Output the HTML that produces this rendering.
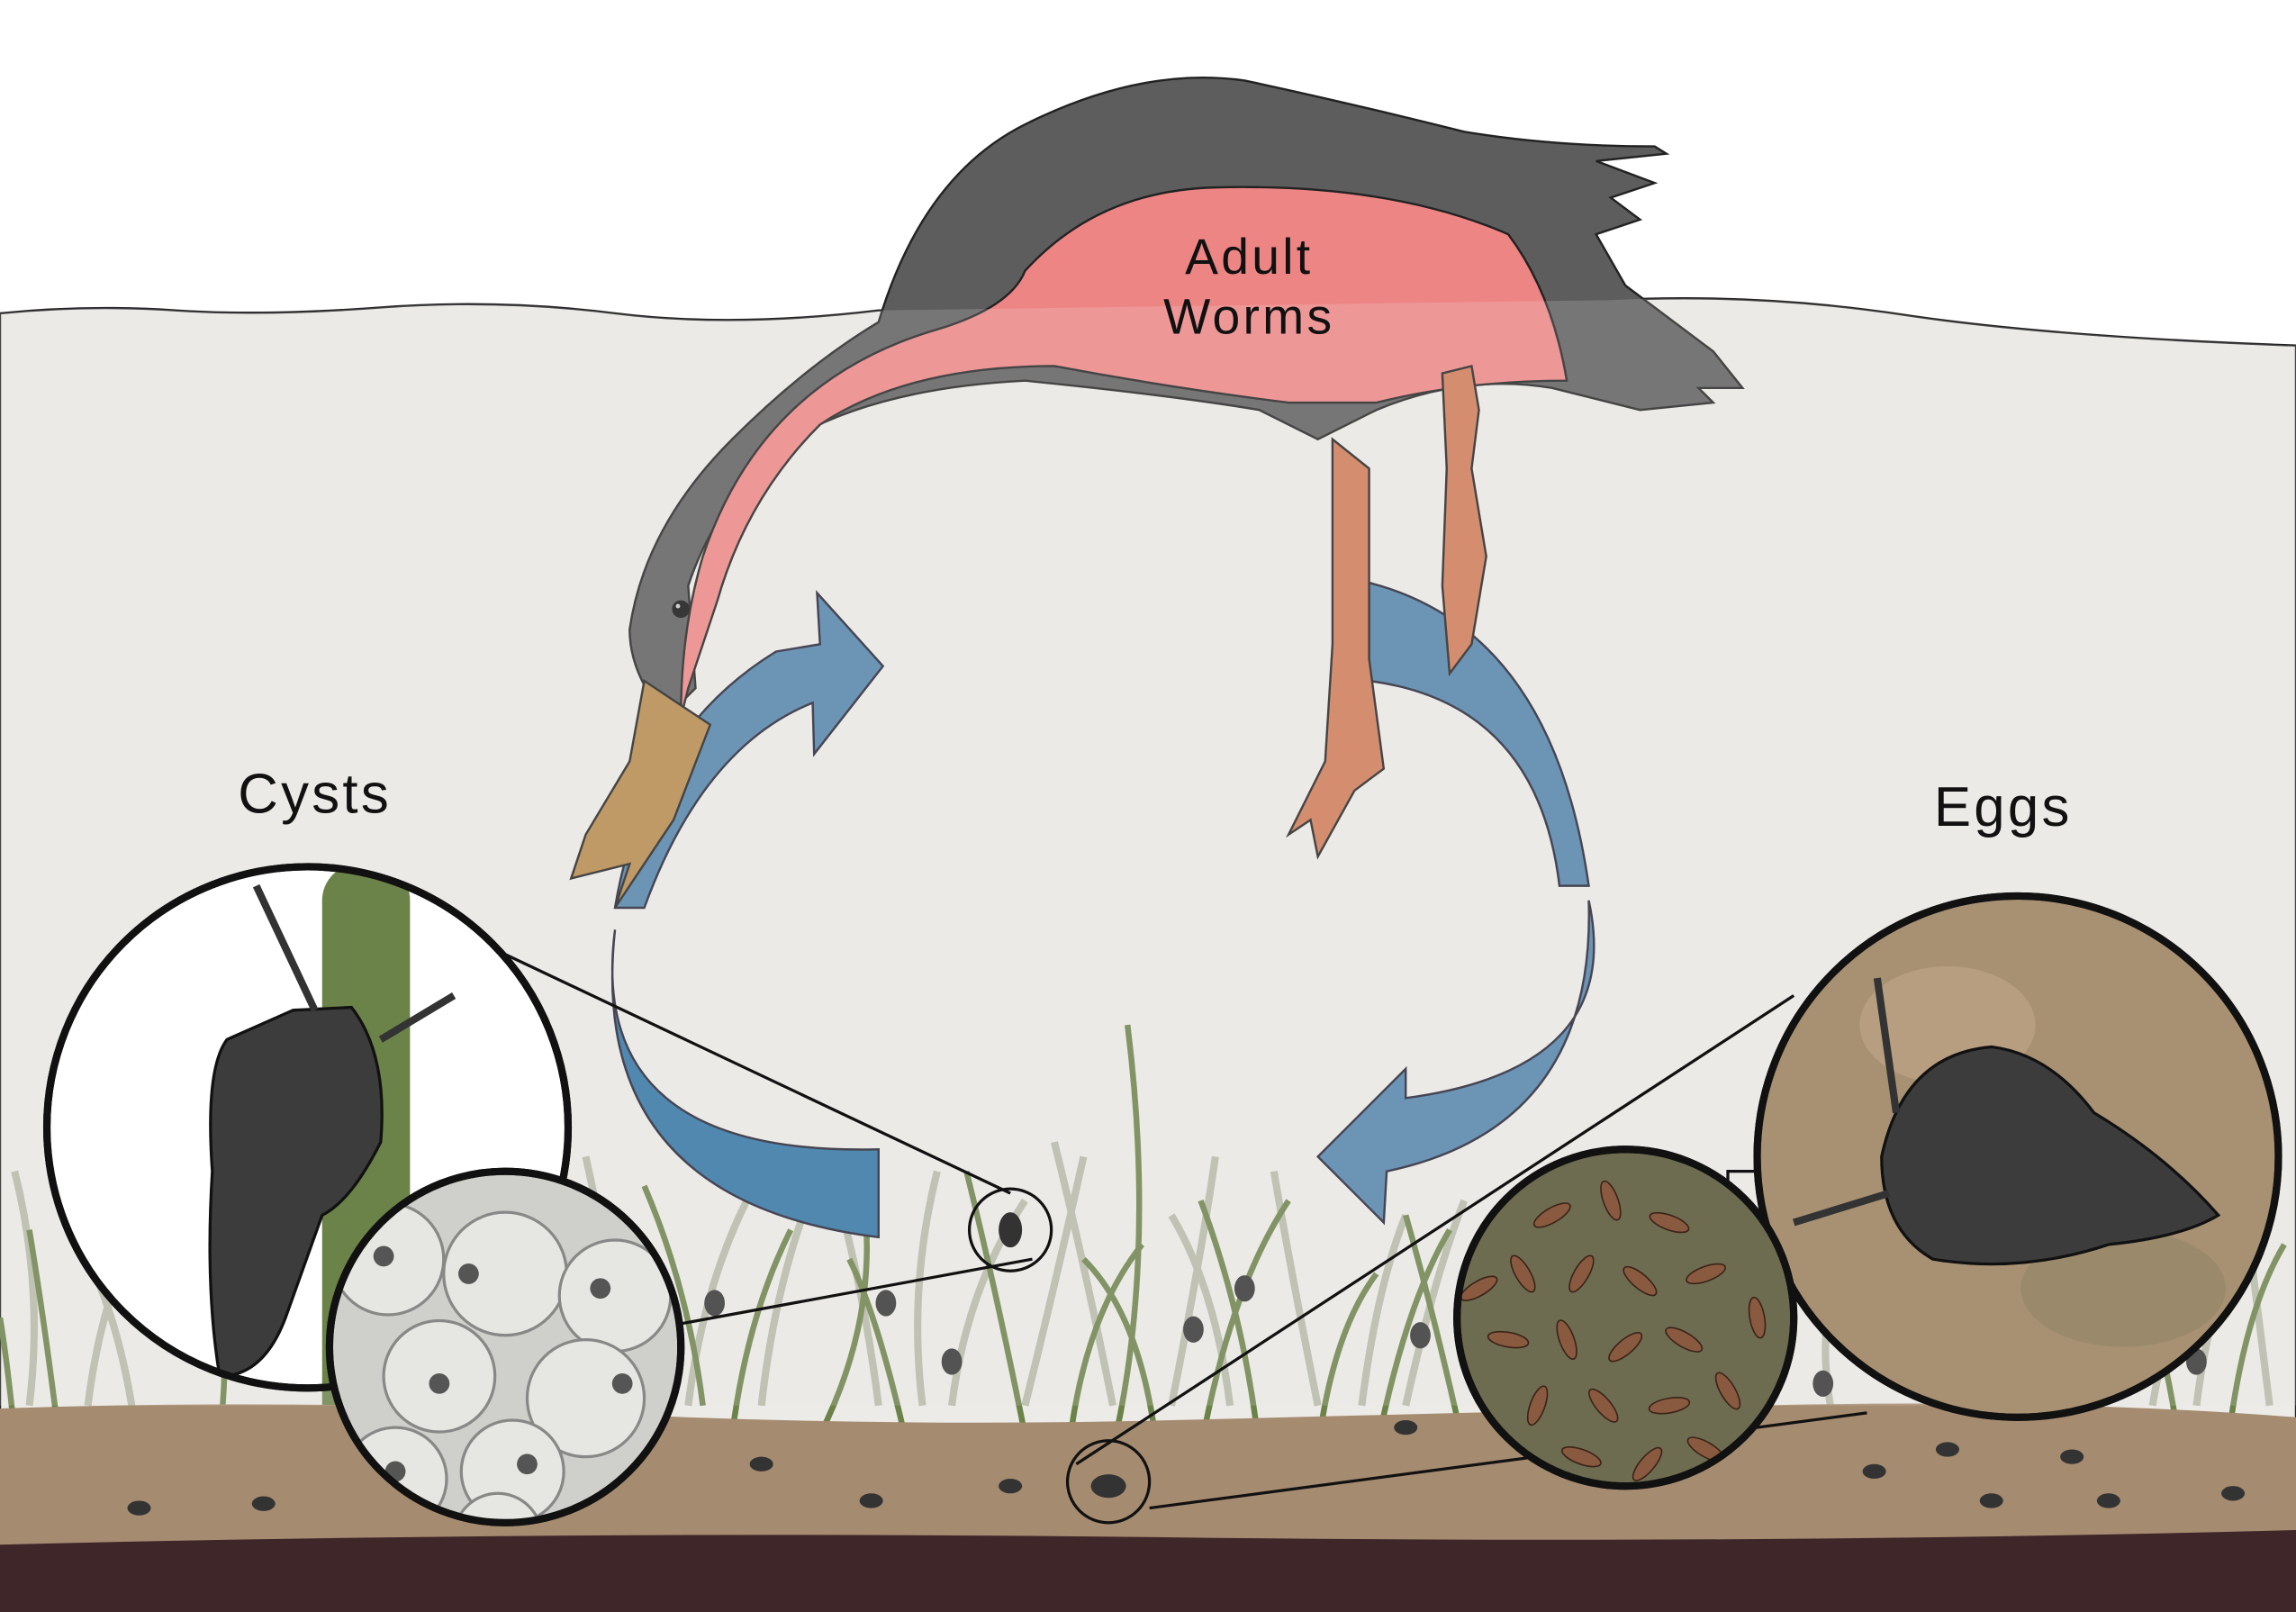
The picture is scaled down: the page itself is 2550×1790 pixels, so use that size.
<!DOCTYPE html>
<html><head><meta charset="utf-8"><style>
html,body{margin:0;padding:0;background:#fff;}
svg{display:block;}
text{font-family:"Liberation Sans",sans-serif;letter-spacing:2px;}
</style></head><body>
<svg width="2550" height="1790" viewBox="0 0 1568 1101" preserveAspectRatio="none" xmlns="http://www.w3.org/2000/svg">
<defs>
<clipPath id="cL"><circle cx="210" cy="770" r="176"/></clipPath>
<clipPath id="cR"><circle cx="1378" cy="790" r="176"/></clipPath>
<clipPath id="cC"><circle cx="345" cy="920" r="118"/></clipPath>
<clipPath id="cE"><circle cx="1110" cy="900" r="113"/></clipPath>
</defs>
<rect width="1568" height="1101" fill="#fff"/>
<path d="M0 214 Q60 208 120 212 T260 210 T420 214 T600 212 L1100 205 Q1200 200 1300 215 T1568 236 L1568 1101 L0 1101Z" fill="#ecebe7" stroke="#222" stroke-width="1.5"/>
<g stroke="#a9ae9a" stroke-width="5" fill="none" opacity="0.8">
<path d="M20 960 Q30 880 10 800"/><path d="M60 960 Q70 880 100 830"/><path d="M90 960 Q80 900 60 860"/><path d="M430 960 Q420 880 400 790"/><path d="M470 960 Q480 880 510 820"/><path d="M520 960 Q530 870 560 800"/><path d="M600 960 Q590 880 570 810"/><path d="M630 960 Q620 880 640 800"/><path d="M650 960 Q660 880 700 820"/><path d="M700 960 Q720 880 740 790"/><path d="M760 960 Q740 860 720 780"/><path d="M800 960 Q820 860 830 790"/><path d="M840 960 Q830 880 800 830"/><path d="M900 960 Q880 860 870 800"/><path d="M930 960 Q940 880 960 830"/><path d="M960 960 Q980 870 1000 820"/><path d="M1500 960 Q1510 880 1540 820"/><path d="M1550 960 Q1540 880 1530 800"/><path d="M1470 960 Q1480 900 1500 860"/><path d="M1250 960 Q1240 900 1260 860"/>
</g>
<g stroke="#6b8248" stroke-width="4" fill="none">
<path d="M480 960 Q470 880 440 810"/><path d="M500 980 Q510 900 540 840"/><path d="M560 980 Q600 900 590 820"/><path d="M620 990 Q600 900 580 860"/><path d="M700 980 Q680 880 660 800"/><path d="M730 990 Q740 900 780 850"/><path d="M760 990 Q790 860 770 700"/><path d="M790 990 Q780 900 740 860"/><path d="M820 990 Q840 880 880 820"/><path d="M860 990 Q850 900 820 820"/><path d="M900 990 Q910 910 940 870"/><path d="M940 990 Q960 890 990 840"/><path d="M1000 990 Q980 900 960 830"/><path d="M1520 1000 Q1530 900 1560 850"/><path d="M1490 1000 Q1480 920 1460 870"/><path d="M40 980 Q30 900 20 840"/><path d="M150 980 Q160 900 140 850"/><path d="M10 980 Q5 930 0 900"/>
</g>
<rect x="220" y="605" width="60" height="400" rx="25" fill="#6b8248"/>
<path d="M0 962 Q200 955 400 965 T800 970 T1200 960 T1568 968 L1568 1101 L0 1101Z" fill="#a58b70"/>
<path d="M0 1055 Q400 1045 800 1050 T1568 1045 L1568 1101 L0 1101Z" fill="#3f2629"/>
<g fill="#333">
<ellipse cx="95" cy="1030" rx="8" ry="5"/><ellipse cx="180" cy="1027" rx="8" ry="5"/><ellipse cx="520" cy="1000" rx="8" ry="5"/><ellipse cx="595" cy="1025" rx="8" ry="5"/><ellipse cx="690" cy="1015" rx="8" ry="5"/><ellipse cx="960" cy="975" rx="8" ry="5"/><ellipse cx="1280" cy="1005" rx="8" ry="5"/><ellipse cx="1330" cy="990" rx="8" ry="5"/><ellipse cx="1415" cy="995" rx="8" ry="5"/><ellipse cx="1440" cy="1025" rx="8" ry="5"/><ellipse cx="1360" cy="1025" rx="8" ry="5"/><ellipse cx="1525" cy="1020" rx="8" ry="5"/><ellipse cx="815" cy="908" rx="7" ry="9"/><ellipse cx="850" cy="880" rx="7" ry="9"/><ellipse cx="650" cy="930" rx="7" ry="9"/><ellipse cx="970" cy="912" rx="7" ry="9"/><ellipse cx="1245" cy="945" rx="7" ry="9"/><ellipse cx="1500" cy="930" rx="7" ry="9"/><ellipse cx="488" cy="890" rx="7" ry="9"/><ellipse cx="605" cy="890" rx="7" ry="9"/>
</g>
<g fill="#4f82aa" stroke="#223" stroke-width="1.5">
<path d="M420 620 Q440 500 530 445 L560 440 L558 405 L603 455 L556 515 L555 480 Q480 510 440 620Z"/>
<path d="M935 398 Q1060 430 1085 605 L1065 605 Q1050 480 935 465Z"/>
<path d="M1085 615 Q1110 730 960 750 L960 730 L900 790 L945 835 L947 800 Q1090 770 1085 615Z"/>
<path d="M420 635 Q400 790 600 785 L600 845 Q400 820 420 635Z" fill="#2f73a3"/>
</g>
<path d="M600 220 Q630 120 700 85 Q780 45 850 55 Q920 70 1000 90 Q1060 100 1130 100 L1138 105 L1090 110 L1130 125 L1100 135 L1120 150 L1090 160 L1110 195 L1170 240 L1190 265 L1160 265 L1170 275 L1120 280 L1060 265 Q1000 255 940 280 Q920 290 900 300 L860 280 Q800 270 700 260 Q600 265 540 300 Q490 340 470 400 L475 470 L455 490 Q430 460 430 430 Q440 360 500 300 Q550 250 600 220Z" fill="#5d5d5d" stroke="#222" stroke-width="1.5"/>
<path d="M700 185 Q750 130 830 128 Q950 125 1030 160 Q1060 200 1070 260 Q1000 260 940 275 L880 275 Q800 265 720 250 Q620 250 560 290 Q510 340 490 410 L470 470 L465 490 Q465 430 480 380 Q520 260 640 225 Q690 210 700 185Z" fill="#ee8585" stroke="#222" stroke-width="1.5"/>
<path d="M440 465 L485 495 L460 560 L430 605 L420 620 L430 590 L390 600 L400 570 L430 520Z" fill="#b5894a" stroke="#222" stroke-width="1.5"/>
<circle cx="465" cy="416" r="6" fill="#111"/><circle cx="463" cy="414" r="1.5" fill="#ccc"/>
<g fill="#cf7a55" stroke="#222" stroke-width="1.5">
<path d="M910 300 L935 320 L935 450 L945 525 L925 540 L900 585 L895 560 L880 570 L905 520 L910 440Z"/>
<path d="M985 255 L1005 250 L1010 280 L1005 320 L1015 380 L1005 440 L990 460 L985 400 L988 320Z"/>
</g>
<path d="M0 214 Q60 208 120 212 T260 210 T420 214 T600 212 L1100 205 Q1200 200 1300 215 T1568 236 L1568 960 L0 960Z" fill="#ecebe7" opacity="0.18"/>
<text x="853" y="187" font-size="34" text-anchor="middle" fill="#111">Adult</text>
<text x="853" y="228" font-size="34" text-anchor="middle" fill="#111">Worms</text>
<text x="215" y="555" font-size="38" text-anchor="middle" fill="#111">Cysts</text>
<text x="1368" y="564" font-size="38" text-anchor="middle" fill="#111">Eggs</text>
<g stroke="#111" stroke-width="2" fill="none">
<line x1="320" y1="640" x2="690" y2="815"/><line x1="460" y1="905" x2="705" y2="860"/>
<line x1="1225" y1="680" x2="735" y2="1000"/><line x1="1275" y1="965" x2="785" y2="1030"/>
<circle cx="690" cy="840" r="28"/><circle cx="757" cy="1012" r="28"/>
<rect x="200" y="828" width="45" height="60"/><rect x="1180" y="800" width="65" height="60"/>
</g>
<ellipse cx="690" cy="840" rx="8" ry="12" fill="#333"/><ellipse cx="757" cy="1015" rx="12" ry="8" fill="#333"/>
<circle cx="210" cy="770" r="178" fill="#fff" stroke="#111" stroke-width="5"/>
<g clip-path="url(#cL)">
<rect x="220" y="590" width="60" height="400" rx="25" fill="#6b8248"/>
<path d="M200 690 L240 688 Q265 720 260 780 Q240 820 220 830 L195 900 Q180 940 150 940 Q140 880 145 800 Q140 730 155 710Z" fill="#3c3c3c" stroke="#111" stroke-width="2"/>
<path d="M215 690 L175 605 M260 710 L310 680" stroke="#333" stroke-width="5"/>
</g>
<circle cx="210" cy="770" r="178" fill="none" stroke="#111" stroke-width="5"/>
<circle cx="345" cy="920" r="120" fill="#cfcfcb" stroke="#111" stroke-width="5"/>
<g clip-path="url(#cC)" fill="#e6e6e2" stroke="#888" stroke-width="2">
<circle cx="265" cy="860" r="38"/><circle cx="345" cy="870" r="42"/><circle cx="420" cy="885" r="38"/><circle cx="300" cy="940" r="38"/><circle cx="400" cy="955" r="40"/><circle cx="270" cy="1010" r="35"/><circle cx="350" cy="1005" r="35"/><circle cx="340" cy="1050" r="30"/>
<g fill="#555" stroke="none"><circle cx="262" cy="858" r="7"/><circle cx="320" cy="870" r="7"/><circle cx="410" cy="880" r="7"/><circle cx="300" cy="945" r="7"/><circle cx="425" cy="945" r="7"/><circle cx="270" cy="1005" r="7"/><circle cx="360" cy="1000" r="7"/></g>
</g>
<circle cx="345" cy="920" r="120" fill="none" stroke="#111" stroke-width="5"/>
<circle cx="1378" cy="790" r="178" fill="#a89173" stroke="#111" stroke-width="5"/>
<g clip-path="url(#cR)">
<ellipse cx="1330" cy="700" rx="60" ry="40" fill="#b89e80"/><ellipse cx="1450" cy="880" rx="70" ry="40" fill="#9a8a6b"/>
<path d="M1285 790 Q1300 720 1360 715 Q1400 720 1430 760 Q1480 790 1515 830 Q1490 845 1440 850 Q1380 870 1320 860 Q1285 840 1285 790Z" fill="#3c3c3c" stroke="#111" stroke-width="2"/>
<path d="M1295 760 L1282 668 M1290 815 L1225 835" stroke="#333" stroke-width="5"/>
</g>
<circle cx="1378" cy="790" r="178" fill="none" stroke="#111" stroke-width="5"/>
<circle cx="1110" cy="900" r="115" fill="#6d6b50" stroke="#111" stroke-width="5"/>
<g clip-path="url(#cE)" fill="#8a5a40" stroke="#3a2418" stroke-width="1">
<ellipse cx="1060" cy="830" rx="14" ry="5" transform="rotate(-30 1060 830)"/><ellipse cx="1100" cy="820" rx="14" ry="5" transform="rotate(70 1100 820)"/><ellipse cx="1140" cy="835" rx="14" ry="5" transform="rotate(20 1140 835)"/><ellipse cx="1040" cy="870" rx="14" ry="5" transform="rotate(60 1040 870)"/><ellipse cx="1080" cy="870" rx="14" ry="5" transform="rotate(-60 1080 870)"/><ellipse cx="1120" cy="875" rx="14" ry="5" transform="rotate(40 1120 875)"/><ellipse cx="1165" cy="870" rx="14" ry="5" transform="rotate(-20 1165 870)"/><ellipse cx="1200" cy="900" rx="14" ry="5" transform="rotate(80 1200 900)"/><ellipse cx="1030" cy="915" rx="14" ry="5" transform="rotate(10 1030 915)"/><ellipse cx="1070" cy="915" rx="14" ry="5" transform="rotate(70 1070 915)"/><ellipse cx="1110" cy="920" rx="14" ry="5" transform="rotate(-40 1110 920)"/><ellipse cx="1150" cy="915" rx="14" ry="5" transform="rotate(30 1150 915)"/><ellipse cx="1050" cy="960" rx="14" ry="5" transform="rotate(-70 1050 960)"/><ellipse cx="1095" cy="960" rx="14" ry="5" transform="rotate(50 1095 960)"/><ellipse cx="1140" cy="960" rx="14" ry="5" transform="rotate(-10 1140 960)"/><ellipse cx="1180" cy="950" rx="14" ry="5" transform="rotate(60 1180 950)"/><ellipse cx="1080" cy="995" rx="14" ry="5" transform="rotate(20 1080 995)"/><ellipse cx="1125" cy="1000" rx="14" ry="5" transform="rotate(-50 1125 1000)"/><ellipse cx="1165" cy="990" rx="14" ry="5" transform="rotate(30 1165 990)"/><ellipse cx="1010" cy="880" rx="14" ry="5" transform="rotate(-30 1010 880)"/>
</g>
<circle cx="1110" cy="900" r="115" fill="none" stroke="#111" stroke-width="5"/>
</svg>
</body></html>
